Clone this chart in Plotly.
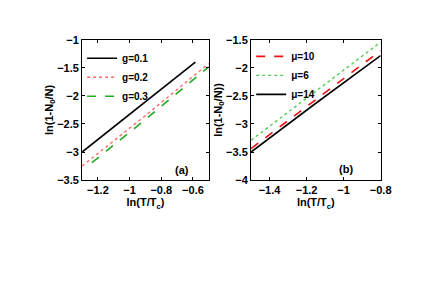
import plotly.graph_objects as go

# Panel (a): ln(1-N0/N) vs ln(T/Tc) for several g
a_names = ["g=0.1", "g=0.2", "g=0.3"]
a_x = [[-1.30, -0.95, -0.585], [-1.30, -0.90, -0.50], [-1.238, -0.90, -0.50]]
a_y = [[-3.00, -2.22, -1.395], [-3.25, -2.35, -1.42], [-3.19, -2.42, -1.48]]
a_colors = ["black", "#ff6a6a", "#22aa22"]
a_dash = ["solid", "dot", "dash"]

# Panel (b): for several mu
b_names = ["\u03bc=10", "\u03bc=6", "\u03bc=14"]
b_x = [[-1.50, -1.15, -0.80], [-1.50, -1.15, -0.80], [-1.50, -1.15, -0.80]]
b_y = [[-3.44, -2.56, -1.69], [-3.29, -2.41, -1.54], [-3.50, -2.63, -1.78]]
b_colors = ["#ee1111", "#55cc55", "black"]
b_dash = ["dash", "dot", "solid"]

FONT = "Liberation Sans"

fig = go.Figure()
for n, x, y, c, d in zip(a_names, a_x, a_y, a_colors, a_dash):
    fig.add_trace(go.Scatter(x=x, y=y, name=n, mode="lines",
                             line=dict(color=c, dash=d, width=1.6 if d != "dot" else 1.4),
                             xaxis="x", yaxis="y", legend="legend"))
for n, x, y, c, d in zip(b_names, b_x, b_y, b_colors, b_dash):
    fig.add_trace(go.Scatter(x=x, y=y, name=n, mode="lines",
                             line=dict(color=c, dash=d, width=1.6 if d != "dot" else 1.4),
                             xaxis="x2", yaxis="y2", legend="legend2"))

H = 298.0
W = 436.0
ydom = [1 - 173 / H, 1 - 27 / H]
axcommon = dict(showgrid=False, zeroline=False, showline=True, linecolor="black",
                linewidth=1, mirror="allticks", ticks="inside", ticklen=3,
                tickcolor="black",
                tickfont=dict(family=FONT, size=11, color="black", weight="bold"))
tfont = dict(family=FONT, size=11, color="black")

fig.update_layout(
    width=436, height=298,
    margin=dict(l=0, r=0, t=0, b=0),
    paper_bgcolor="white", plot_bgcolor="white",
    font=dict(family=FONT, color="black"),
    xaxis=dict(domain=[76 / W, 206 / W], range=[-1.3, -0.5], anchor="y",
               tickvals=[-1.2, -1.0, -0.8, -0.6], ticktext=["\u22121.2", "\u22121", "\u22120.8", "\u22120.6"],
               title=dict(text="<b>ln(T/T<sub>c</sub>)</b>", font=tfont, standoff=0),
               **axcommon),
    yaxis=dict(domain=ydom, range=[-3.5, -1.0], anchor="x",
               tickvals=[-3.5, -3, -2.5, -2, -1.5, -1],
               ticktext=["\u22123.5", "\u22123", "\u22122.5", "\u22122", "\u22121.5", "\u22121"],
               title=dict(text="<b>ln(1-N<sub>0</sub>/N)</b>", font=tfont, standoff=0),
               **axcommon),
    xaxis2=dict(domain=[249.3 / W, 382.3 / W], range=[-1.5, -0.8], anchor="y2",
                tickvals=[-1.4, -1.2, -1.0, -0.8], ticktext=["\u22121.4", "\u22121.2", "\u22121", "\u22120.8"],
                title=dict(text="<b>ln(T/T<sub>c</sub>)</b>", font=tfont, standoff=0),
                **axcommon),
    yaxis2=dict(domain=ydom, range=[-4.0, -1.5], anchor="x2",
                tickvals=[-4, -3.5, -3, -2.5, -2, -1.5],
                ticktext=["\u22124", "\u22123.5", "\u22123", "\u22122.5", "\u22122", "\u22121.5"],
                title=dict(text="<b>ln(1-N<sub>0</sub>/N))</b>", font=tfont, standoff=0),
                **axcommon),
    legend=dict(x=76 / W, y=1 - 31 / H, xanchor="left", yanchor="top",
                bgcolor="rgba(0,0,0,0)", borderwidth=0,
                font=dict(family=FONT, size=10, color="black", weight="bold"),
                tracegroupgap=0, itemwidth=30),
    legend2=dict(x=249.5 / W, y=1 - 29 / H, xanchor="left", yanchor="top",
                 bgcolor="rgba(0,0,0,0)", borderwidth=0,
                 font=dict(family=FONT, size=10, color="black", weight="bold"),
                 tracegroupgap=0, itemwidth=30),
    showlegend=True,
    annotations=[
        dict(text="<b>(a)</b>", x=179 / W, y=1 - 163 / H, xref="paper", yref="paper",
             showarrow=False, font=dict(family=FONT, size=11, color="black")),
        dict(text="<b>(b)</b>", x=356 / W, y=1 - 161 / H, xref="paper", yref="paper",
             showarrow=False, font=dict(family=FONT, size=11, color="black")),
    ],
)

fig.write_html("out.html")
